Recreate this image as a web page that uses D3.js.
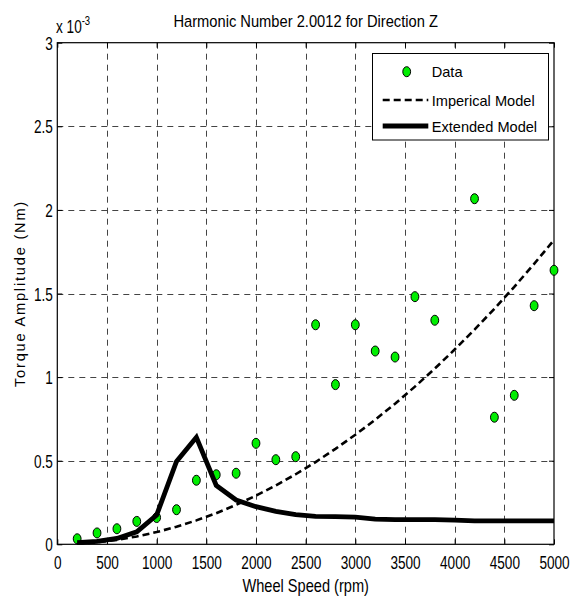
<!DOCTYPE html>
<html><head><meta charset="utf-8">
<script src="https://cdn.jsdelivr.net/npm/d3@7"></script>
<style>body{margin:0;background:#fff}svg{display:block}</style>
</head><body><svg id="c" width="571" height="596"></svg>
<script>
// Values in units of 1e-3 Nm
const modelSpeeds = [200,400,600,800,1000,1200,1400,1600,1800,2000,2200,2400,2600,2800,3000,3200,3400,3600,3800,4000,4200,4400,4600,4800,5000];
const imperValues = [0.003,0.012,0.026,0.047,0.073,0.105,0.143,0.186,0.236,0.291,0.352,0.419,0.492,0.571,0.655,0.745,0.841,0.943,1.051,1.165,1.284,1.409,1.540,1.677,1.820];
const extendedValues = [0.010,0.018,0.035,0.075,0.175,0.495,0.640,0.352,0.265,0.225,0.197,0.178,0.167,0.165,0.162,0.150,0.148,0.148,0.148,0.145,0.140,0.140,0.140,0.140,0.140];
const dataSpeeds = [200,400,600,800,1000,1200,1400,1600,1800,2000,2200,2400,2600,2800,3000,3200,3400,3600,3800,4200,4400,4600,4800,5000];
const dataValues = [0.033,0.068,0.093,0.137,0.160,0.207,0.383,0.416,0.425,0.604,0.506,0.524,1.313,0.955,1.313,1.156,1.120,1.481,1.340,2.067,0.760,0.891,1.427,1.639];
const xTicks = [0,500,1000,1500,2000,2500,3000,3500,4000,4500,5000];
const yTicks = [0,0.5,1,1.5,2,2.5,3];
const yTickLabels = ["0","0.5","1","1.5","2","2.5","3"];
const titleText = "Harmonic Number 2.0012 for Direction Z";
const xLabel = "Wheel Speed (rpm)";
const yLabel = "Torque Amplitude (Nm)";
const legendLabels = ["Data","Imperical Model","Extended Model"];

const svg = d3.select("#c");
const FONT = "Liberation Sans, Arial, Helvetica, sans-serif";
const L = 57.3, R = 554, T = 42.7, B = 544.3;
const x = d3.scaleLinear().domain([0,5000]).range([L,R]);
const y = d3.scaleLinear().domain([0,3]).range([B,T]);

function stext(g, px, py, txt, size, sx, sy, anchor, rot) {
  return g.append("text")
    .attr("transform", `translate(${px},${py})` + (rot ? ` rotate(${rot})` : "") + ` scale(${sx},${sy})`)
    .attr("font-family", FONT).attr("font-size", size)
    .attr("text-anchor", anchor || "start").attr("fill", "#000").text(txt);
}

// grid
const grid = svg.append("g").attr("stroke", "#444").attr("stroke-width", 1).attr("stroke-dasharray", "6,5");
grid.selectAll("line.v").data(xTicks.slice(1, -1)).join("line").attr("class","v")
  .attr("x1", d => Math.round(x(d)) + 0.5).attr("x2", d => Math.round(x(d)) + 0.5).attr("y1", T).attr("y2", B);
grid.selectAll("line.h").data(yTicks.slice(1, -1)).join("line").attr("class","h")
  .attr("y1", d => Math.round(y(d)) + 0.5).attr("y2", d => Math.round(y(d)) + 0.5).attr("x1", L).attr("x2", R);

// axes (inward ticks)
const fmtX = d => String(d);
const gxB = svg.append("g").attr("transform", `translate(0,${B})`)
  .call(d3.axisBottom(x).tickValues(xTicks).tickSizeInner(-5).tickSizeOuter(0).tickFormat(fmtX));
const gxT = svg.append("g").attr("transform", `translate(0,${T})`)
  .call(d3.axisTop(x).tickValues(xTicks).tickSizeInner(-5).tickSizeOuter(0).tickFormat(""));
const gyL = svg.append("g").attr("transform", `translate(${L},0)`)
  .call(d3.axisLeft(y).tickValues(yTicks).tickSizeInner(-5).tickSizeOuter(0).tickFormat((d,i) => yTickLabels[i]));
const gyR = svg.append("g").attr("transform", `translate(${R},0)`)
  .call(d3.axisRight(y).tickValues(yTicks).tickSizeInner(-5).tickSizeOuter(0).tickFormat(""));
[gxB, gxT, gyL, gyR].forEach(g => { g.select(".domain").remove(); g.selectAll(".tick line").attr("stroke", "#000"); });
gxB.selectAll(".tick text").attr("y", null).attr("dy", null)
  .attr("transform", "translate(0,25) scale(1,1.35)")
  .attr("font-family", FONT).attr("font-size", 13.6).attr("fill", "#000").attr("text-anchor", "middle");
gyL.selectAll(".tick text").attr("x", null).attr("dy", null)
  .attr("transform", "translate(-4.5,6.6) scale(1,1.35)")
  .attr("font-family", FONT).attr("font-size", 13.6).attr("fill", "#000").attr("text-anchor", "end");

// box
svg.append("rect").attr("x", L).attr("y", T).attr("width", R - L).attr("height", B - T)
  .attr("fill", "none").attr("stroke", "#000").attr("stroke-width", 1.2);

// plot content
const plot = svg.append("g");
plot.selectAll("ellipse").data(dataSpeeds.map((s, i) => [s, dataValues[i]])).join("ellipse")
  .attr("cx", d => x(d[0])).attr("cy", d => y(d[1])).attr("rx", 3.9).attr("ry", 5)
  .attr("fill", "#00ee00").attr("stroke", "#000").attr("stroke-width", 1);
const line = d3.line().x(d => x(d[0])).y(d => y(d[1]));
plot.append("path").datum(modelSpeeds.map((s, i) => [s, imperValues[i]]))
  .attr("d", line).attr("fill", "none").attr("stroke", "#000").attr("stroke-width", 2.6).attr("stroke-dasharray", "7,4");
plot.append("path").datum(modelSpeeds.map((s, i) => [s, extendedValues[i]]))
  .attr("d", line).attr("fill", "none").attr("stroke", "#000").attr("stroke-width", 4.8).attr("stroke-linejoin", "miter");

// title and labels
stext(svg, (L + R) / 2, 26.7, titleText, 14.7, 1, 1.12, "middle");
stext(svg, (L + R) / 2, 591.5, xLabel, 14.6, 1, 1.27, "middle");
stext(svg, 25, (T + B) / 2, yLabel, 14.6, 1, 1, "middle", -90).attr("letter-spacing", 1.8);
// exponent
const ex = svg.append("text").attr("transform", "translate(56,33) scale(1,1.3)")
  .attr("font-family", FONT).attr("font-size", 13.6).attr("fill", "#000");
ex.append("tspan").text("x 10");
ex.append("tspan").attr("font-size", 9.5).attr("dy", -6).text("-3");

// legend
const lg = svg.append("g");
lg.append("rect").attr("x", 372.5).attr("y", 53.5).attr("width", 176).attr("height", 86.5)
  .attr("fill", "#fff").attr("stroke", "#000").attr("stroke-width", 1);
lg.append("ellipse").attr("cx", 406.7).attr("cy", 71.7).attr("rx", 3.9).attr("ry", 5)
  .attr("fill", "#00ee00").attr("stroke", "#000").attr("stroke-width", 1);
lg.append("line").attr("x1", 382.7).attr("x2", 428.3).attr("y1", 100).attr("y2", 100)
  .attr("stroke", "#000").attr("stroke-width", 2.6).attr("stroke-dasharray", "7,4");
lg.append("line").attr("x1", 382.7).attr("x2", 428.3).attr("y1", 126).attr("y2", 126)
  .attr("stroke", "#000").attr("stroke-width", 4.8);
const ly = [77.3, 105.5, 131.5];
legendLabels.forEach((t, i) => stext(lg, 431.7, ly[i], t, 14.6, 1, 1.05, "start"));
</script></body></html>
